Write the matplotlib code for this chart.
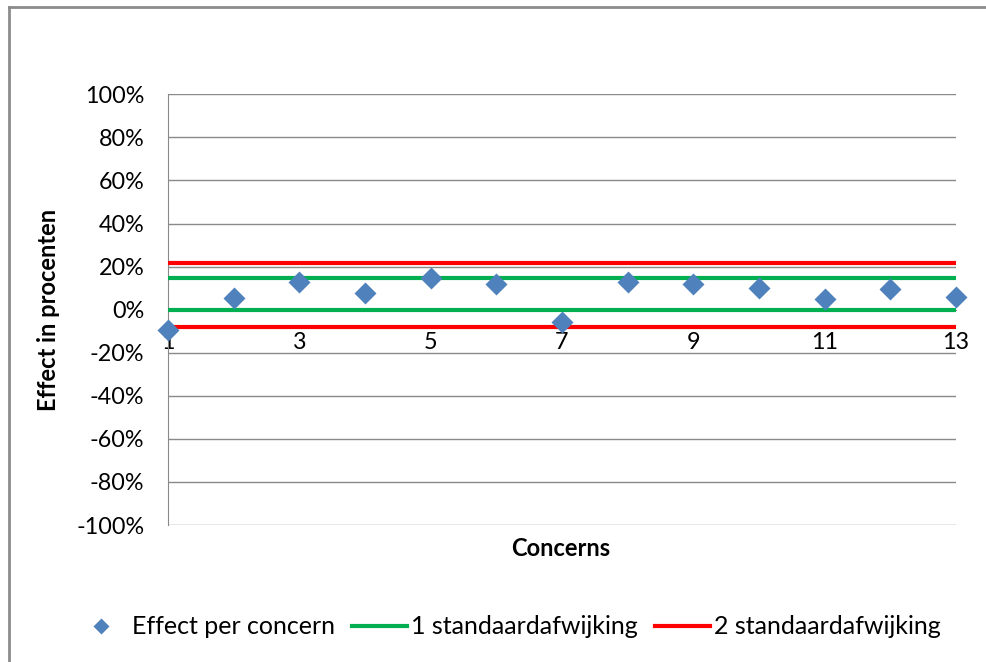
import matplotlib
matplotlib.use("Agg")
import matplotlib.pyplot as plt
import numpy as np
from matplotlib.lines import Line2D
from matplotlib.ticker import PercentFormatter

plt.rcParams['font.family'] = ['Lato', 'DejaVu Sans']
plt.rcParams['axes.unicode_minus'] = False

# effect per concern, in percent
concerns = list(range(1, 14))
effect = [-9.4, 5.6, 12.7, 7.9, 14.6, 12.0, -5.6, 12.7, 12.1, 10.2, 5.0, 9.8, 6.0]

# band limits (upper, lower)
one_sd = [14.6, -0.3]
two_sd = [21.6, -8.1]

x_labels = [1, 3, 5, 7, 9, 11, 13]
y_ticks = list(range(-100, 101, 20))

blue = '#4F81BD'
green = '#00B050'
red = '#FF0000'
grey = '#898989'

fig = plt.figure(figsize=(9.87, 6.62), dpi=100)
ax = fig.add_axes([168 / 987, 1 - 525 / 662, 788 / 987, (525 - 94.3) / 662])

for lvl in one_sd:
    ax.plot(concerns, np.full(len(concerns), lvl), color=green, lw=3, solid_capstyle='butt', zorder=3)
for lvl in two_sd:
    ax.plot(concerns, np.full(len(concerns), lvl), color=red, lw=3, solid_capstyle='butt', zorder=3)
ax.plot(concerns, effect, ls='none', marker='D', ms=11, color=blue, mec='none', zorder=4, clip_on=False)

ax.set_xlim(1, 13)
ax.set_ylim(-100, 100)
ax.set_yticks(y_ticks)
ax.yaxis.set_major_formatter(PercentFormatter(decimals=0))
ax.set_xticks(x_labels)
ax.set_xticklabels([str(v) for v in x_labels])

ax.spines['top'].set_visible(False)
ax.spines['right'].set_visible(False)
ax.spines['left'].set_color(grey)
ax.spines['bottom'].set_position(('data', 0))
ax.spines['bottom'].set_color(grey)
ax.tick_params(axis='both', length=0, labelsize=16.8, colors='#000000')
ax.tick_params(axis='y', pad=17)
ax.tick_params(axis='x', pad=16)
ax.grid(axis='y', color=grey, lw=1)
ax.set_axisbelow(True)

ax.set_ylabel('Effect in procenten', fontsize=17, fontweight='bold', labelpad=12)
fig.text(561 / 987, 1 - 548 / 662, 'Concerns', fontsize=17, fontweight='bold', ha='center', va='center')

handles = [
    Line2D([], [], ls='none', marker='D', ms=8, color=blue, mec='none'),
    Line2D([], [], color=green, lw=3),
    Line2D([], [], color=red, lw=3),
]
fig.legend(handles, ['Effect per concern', '1 standaardafwijking', '2 standaardafwijking'],
           loc='center', bbox_to_anchor=(507 / 987, 1 - 627 / 662), ncol=3, frameon=False,
           fontsize=18, handlelength=2.2, handletextpad=0.15, columnspacing=0.7)

# outer frame (left and top edges)
fig.add_artist(Line2D([9 / 987, 9 / 987], [0, 1 - 7 / 662], color='#8c8c8c', lw=2))
fig.add_artist(Line2D([9 / 987, 1], [1 - 7 / 662, 1 - 7 / 662], color='#8c8c8c', lw=2))

fig.savefig('out.png', dpi=100)
